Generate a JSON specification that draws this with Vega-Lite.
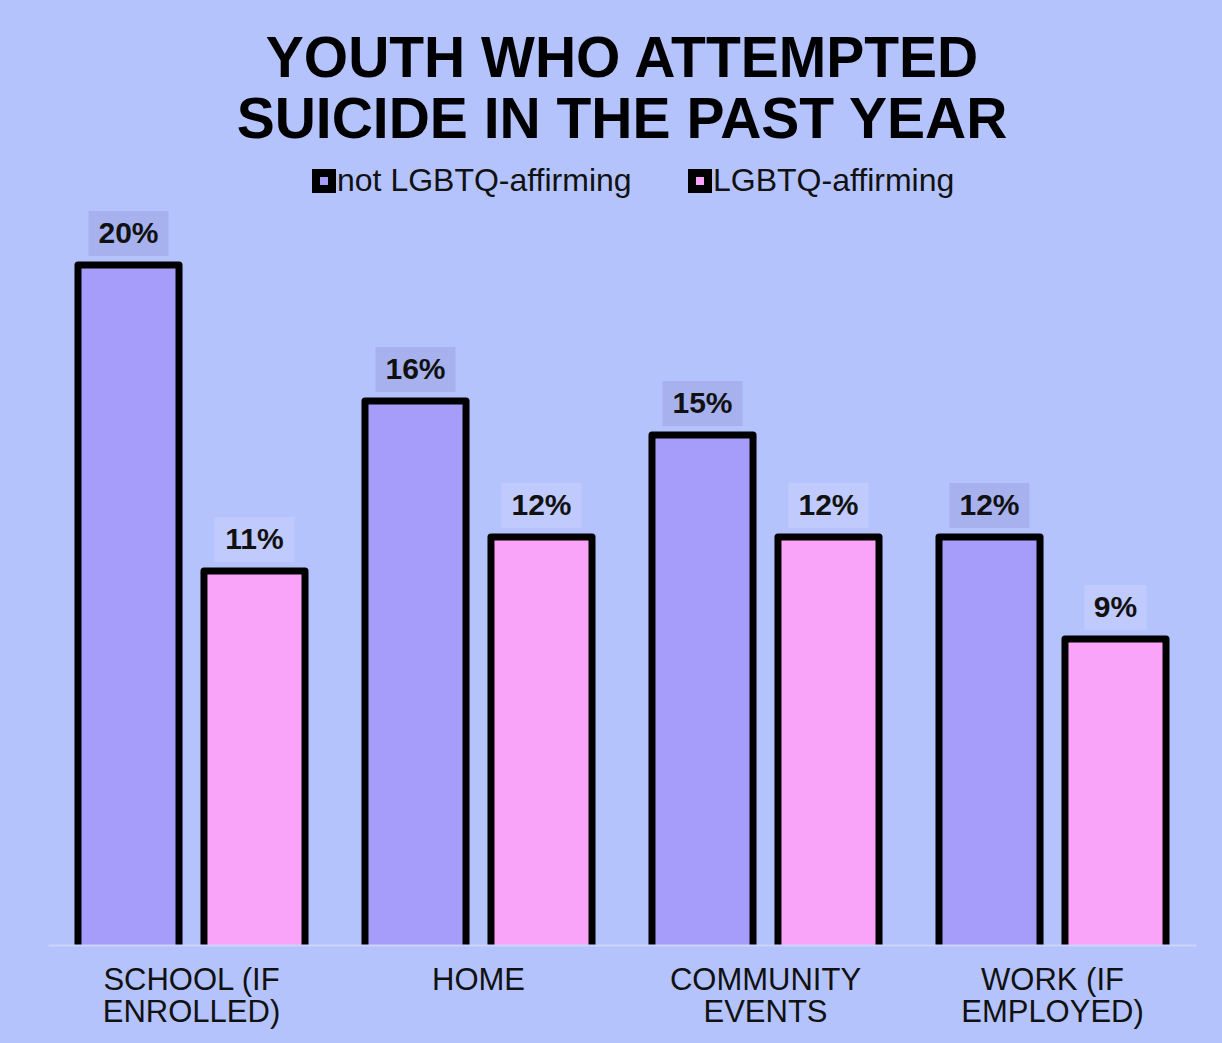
{
  "$schema": "https://vega.github.io/schema/vega-lite/v6.json",
  "autosize": "none",
  "width": 1148,
  "height": 748,
  "padding": {"left": 48, "top": 197, "right": 26, "bottom": 98},
  "background": "#b5c3fd",
  "title": {
    "text": ["YOUTH WHO ATTEMPTED", "SUICIDE IN THE PAST YEAR"],
    "font": "Liberation Sans",
    "fontSize": 57,
    "fontWeight": "bold",
    "color": "#000000",
    "lineHeight": 61,
    "anchor": "middle",
    "frame": "group",
    "baseline": "bottom",
    "offset": -42
  },
  "config": {
    "view": {"stroke": null},
    "font": "Liberation Sans"
  },
  "data": {
    "values": [
      {"place": "SCHOOL (IF ENROLLED)", "group": "not LGBTQ-affirming", "value": 0.20},
      {"place": "SCHOOL (IF ENROLLED)", "group": "LGBTQ-affirming", "value": 0.11},
      {"place": "HOME", "group": "not LGBTQ-affirming", "value": 0.16},
      {"place": "HOME", "group": "LGBTQ-affirming", "value": 0.12},
      {"place": "COMMUNITY EVENTS", "group": "not LGBTQ-affirming", "value": 0.15},
      {"place": "COMMUNITY EVENTS", "group": "LGBTQ-affirming", "value": 0.12},
      {"place": "WORK (IF EMPLOYED)", "group": "not LGBTQ-affirming", "value": 0.12},
      {"place": "WORK (IF EMPLOYED)", "group": "LGBTQ-affirming", "value": 0.09}
    ]
  },
  "encoding": {
    "x": {
      "field": "place",
      "type": "nominal",
      "sort": null,
      "scale": {"paddingInner": 0, "paddingOuter": 0},
      "axis": {
        "title": null,
        "ticks": false,
        "domainColor": "#cdd4f9",
        "domainWidth": 2,
        "zindex": 1,
        "labelAngle": 0,
        "labelFont": "Liberation Sans",
        "labelFontSize": 31,
        "labelColor": "#111111",
        "labelLineHeight": 32,
        "labelPadding": 20,
        "labelBaseline": "top",
        "labelLimit": 0,
        "labelExpr": "indexof(datum.value, ' ') < 0 ? datum.value : [slice(datum.value, 0, lastindexof(datum.value, ' ')), slice(datum.value, lastindexof(datum.value, ' ') + 1)]"
      }
    },
    "xOffset": {
      "field": "group",
      "type": "nominal",
      "scale": {"domain": ["not LGBTQ-affirming", "LGBTQ-affirming"], "paddingInner": 0.198, "paddingOuter": 0.238}
    },
    "y": {
      "field": "value",
      "type": "quantitative",
      "scale": {"domain": [0, 0.22], "nice": false, "zero": false},
      "axis": null
    }
  },
  "layer": [
    {
      "mark": {"type": "bar", "stroke": "#000000", "strokeWidth": 7, "strokeJoin": "round", "clip": true},
      "encoding": {
        "y2": {"datum": -0.004},
        "color": {
          "field": "group",
          "type": "nominal",
          "scale": {"domain": ["not LGBTQ-affirming", "LGBTQ-affirming"], "range": ["#a69cfa", "#f9a4f9"]},
          "legend": {
            "title": null,
            "orient": "none",
            "direction": "horizontal",
            "legendX": 260,
            "legendY": -32,
            "padding": 0,
            "symbolType": "square",
            "symbolSize": 256,
            "symbolStrokeColor": "#000000",
            "symbolStrokeWidth": 8,
            "symbolOpacity": 1,
            "labelFont": "Liberation Sans",
            "labelFontSize": 32,
            "labelColor": "#111111",
            "labelOffset": -3,
            "columnPadding": 44,
            "labelLimit": 0
          }
        }
      }
    },
    {
      "transform": [{"filter": "datum.value >= 0.1"}],
      "mark": {"type": "bar", "width": 80, "yOffset": -54, "y2Offset": -9},
      "encoding": {
        "y2": {"field": "value"},
        "color": {"condition": {"test": "datum.group == 'LGBTQ-affirming'", "value": "#c0cafd"}, "value": "#a6b1ee"}
      }
    },
    {
      "transform": [{"filter": "datum.value < 0.1"}],
      "mark": {"type": "bar", "width": 62, "yOffset": -54, "y2Offset": -9},
      "encoding": {
        "y2": {"field": "value"},
        "color": {"condition": {"test": "datum.group == 'LGBTQ-affirming'", "value": "#c0cafd"}, "value": "#a6b1ee"}
      }
    },
    {
      "mark": {"type": "text", "font": "Liberation Sans", "fontSize": 30, "fontWeight": "bold", "color": "#111111", "baseline": "middle", "dy": -31},
      "encoding": {
        "text": {"field": "value", "type": "quantitative", "format": ".0%"}
      }
    }
  ]
}
